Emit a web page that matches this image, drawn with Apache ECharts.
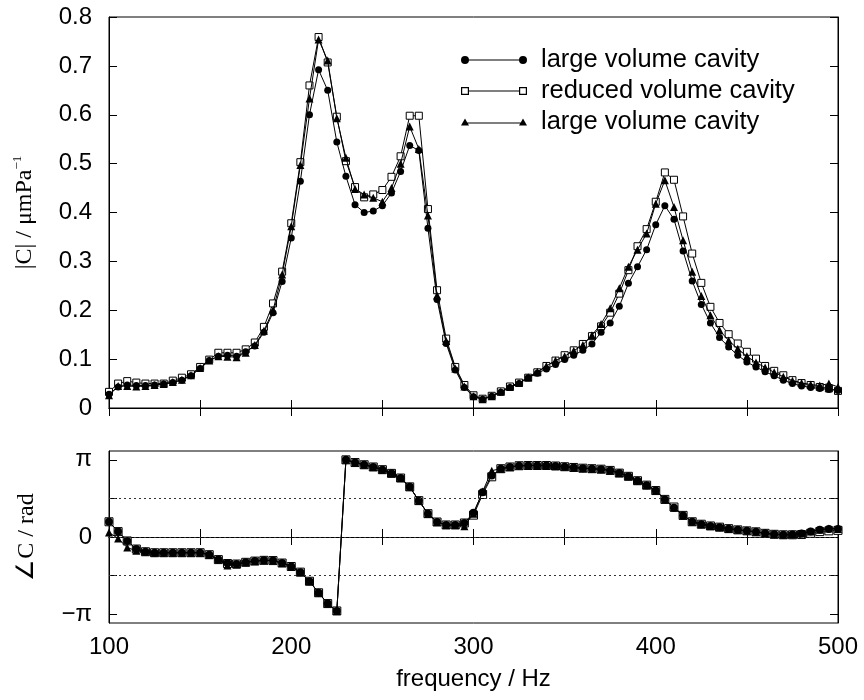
<!DOCTYPE html>
<html>
<head>
<meta charset="utf-8">
<script src="https://cdn.jsdelivr.net/npm/echarts@6/dist/echarts.min.js"></script>
<style>
html,body{margin:0;padding:0;background:#fff;}
#c{width:864px;height:700px;}
</style>
</head>
<body>
<div id="c"></div>
<script>
// frequencies (Hz)
const freq = [100,105,110,115,120,125,130,135,140,145,
  150,155,160,165,170,175,180,185,190,195,
  200,205,210,215,220,225,230,235,240,245,
  250,255,260,265,270,275,280,285,290,295,
  300,305,310,315,320,325,330,335,340,345,
  350,355,360,365,370,375,380,385,390,395,
  400,405,410,415,420,425,430,435,440,445,
  450,455,460,465,470,475,480,485,490,495,
  500];

const seriesNames = ['large volume cavity', 'reduced volume cavity', 'large volume cavity '];

// |C| (µm/Pa)
const magLarge = [.028,.043,.047,.046,.046,.047,.049,.052,.057,.066,
  .081,.097,.106,.108,.106,.115,.127,.155,.195,.259,
  .348,.464,.600,.692,.650,.544,.474,.416,.400,.403,
  .414,.440,.484,.537,.527,.368,.222,.132,.078,.042,
  .023,.018,.024,.032,.042,.050,.062,.071,.080,.089,
  .099,.108,.118,.131,.155,.174,.208,.255,.289,.324,
  .375,.414,.386,.321,.260,.212,.174,.144,.125,.108,
  .094,.084,.074,.066,.057,.050,.045,.042,.040,.038,
  .036];
const magReduced = [.033,.050,.055,.052,.050,.050,.050,.056,.062,.069,
  .084,.099,.113,.113,.113,.120,.134,.166,.214,.279,
  .378,.503,.660,.759,.707,.596,.505,.452,.431,.437,
  .446,.473,.515,.598,.598,.407,.241,.142,.084,.047,
  .026,.019,.025,.034,.044,.052,.062,.073,.086,.097,
  .108,.118,.131,.147,.167,.195,.234,.282,.331,.366,
  .422,.482,.467,.392,.316,.256,.207,.174,.151,.132,
  .115,.101,.086,.076,.067,.057,.051,.047,.043,.040,
  .035];
const magLarge2 = [.026,.045,.045,.044,.045,.047,.049,.053,.058,.067,
  .082,.097,.106,.105,.104,.113,.129,.158,.200,.273,
  .372,.497,.633,.754,.711,.593,.512,.448,.437,.430,
  .422,.450,.500,.576,.530,.394,.230,.137,.081,.044,
  .024,.018,.024,.033,.043,.051,.063,.074,.086,.097,
  .106,.117,.129,.149,.172,.204,.245,.289,.324,.357,
  .418,.466,.411,.343,.279,.229,.190,.159,.138,.121,
  .106,.093,.083,.073,.064,.056,.051,.048,.046,.050,
  .043];

// phase (rad)
const phaseLarge = [.62,.22,-.16,-.49,-.60,-.64,-.64,-.64,-.64,-.64,
  -.64,-.72,-.92,-1.06,-1.10,-1.03,-.98,-.95,-.96,-1.06,
  -1.20,-1.43,-1.80,-2.27,-2.71,-3.01,3.14,3.03,2.94,2.85,
  2.74,2.59,2.40,2.04,1.48,.95,.61,.49,.49,.57,
  .99,1.82,2.50,2.78,2.85,2.90,2.91,2.91,2.91,2.89,
  2.86,2.83,2.80,2.78,2.76,2.71,2.60,2.47,2.29,2.11,
  1.89,1.53,1.19,.88,.62,.52,.45,.40,.34,.29,
  .25,.21,.15,.11,.09,.10,.14,.22,.30,.33,
  .33];
const phaseReduced = [.62,.22,-.16,-.49,-.60,-.64,-.64,-.64,-.64,-.64,
  -.64,-.72,-.92,-1.08,-1.10,-1.03,-.98,-.95,-.96,-1.06,
  -1.20,-1.43,-1.80,-2.27,-2.71,-3.01,3.14,3.03,2.94,2.85,
  2.74,2.59,2.40,2.04,1.48,.95,.61,.49,.49,.57,
  .89,1.73,2.45,2.78,2.85,2.90,2.91,2.91,2.91,2.89,
  2.86,2.83,2.80,2.78,2.76,2.71,2.60,2.47,2.29,2.11,
  1.89,1.53,1.22,.88,.62,.52,.45,.40,.34,.29,
  .25,.21,.15,.11,.09,.09,.10,.15,.22,.25,
  .27];
const phaseLarge2 = [.18,-.06,-.43,-.56,-.60,-.64,-.64,-.64,-.64,-.64,
  -.64,-.72,-.92,-1.16,-1.12,-1.03,-.98,-.95,-.96,-1.06,
  -1.20,-1.43,-1.80,-2.27,-2.71,-3.01,3.14,3.03,2.94,2.85,
  2.74,2.59,2.40,2.04,1.48,.95,.61,.49,.49,.44,
  .95,1.85,2.70,2.78,2.85,2.90,2.91,2.91,2.91,2.89,
  2.86,2.83,2.80,2.78,2.76,2.71,2.60,2.47,2.29,2.11,
  1.89,1.53,1.19,.88,.62,.52,.45,.40,.34,.29,
  .25,.21,.15,.11,.09,.10,.14,.22,.30,.35,
  .33];

const xTickStep = 50;
const magTicks = 0.1;
const phaseTickValues = [-Math.PI, -Math.PI/2, 0, Math.PI/2, Math.PI];
const phaseLabelValues = [-Math.PI, 0, Math.PI];
const phaseLabelText = ['\u2212\u03c0', '0', '\u03c0'];
const phaseGridValues = [-Math.PI/2, 0, Math.PI/2];

const pair = (ys) => freq.map((f, i) => [f, ys[i]]);

const SANS = 'Liberation Sans, Arial, Helvetica, sans-serif';
const SERIF = 'Liberation Serif, Times New Roman, serif';
const FS = 24;

function xAx(grid, pos, showLabel, name) {
  return {
    type: 'value', gridIndex: grid, position: pos, min: 100, max: 500, interval: xTickStep,
    axisLine: {show: true, lineStyle: {color: '#000', width: 1}},
    axisTick: {show: true, inside: true, length: 8, lineStyle: {color: '#000', width: 1}},
    axisLabel: {show: showLabel, margin: 12, color: '#000', fontFamily: SANS, fontSize: FS,
      formatter: v => (v % 100 === 0 ? String(v) : '')},
    splitLine: {show: false},
    name: name || '', nameLocation: 'middle', nameGap: 44,
    nameTextStyle: {color: '#000', fontFamily: SANS, fontSize: FS}
  };
}

const opt = {
  animation: false,
  backgroundColor: '#fff',
  grid: [
    {left: 109, top: 17, width: 729, height: 391, show: true, borderColor: '#000', borderWidth: 1},
    {left: 109, top: 451, width: 729, height: 172, show: true, borderColor: '#000', borderWidth: 1}
  ],
  xAxis: [
    xAx(0, 'bottom', false),
    xAx(0, 'top', false),
    xAx(1, 'bottom', true, 'frequency / Hz'),
    xAx(1, 'top', false)
  ],
  yAxis: [
    {
      type: 'value', gridIndex: 0, position: 'left', min: 0, max: 0.8, interval: magTicks,
      axisLine: {show: true, lineStyle: {color: '#000'}},
      axisTick: {show: true, inside: true, length: 8, lineStyle: {color: '#000'}},
      axisLabel: {show: true, margin: 17, color: '#000', fontFamily: SANS, fontSize: FS,
        formatter: v => (Math.abs(v) < 1e-9 ? '0' : v.toFixed(1))},
      splitLine: {show: false},
      name: '{b||C| / \u03bcmPa}{sup|\u22121}', nameLocation: 'middle', nameGap: 70,
      nameTextStyle: {color: '#000', fontFamily: SERIF, fontSize: FS,
        rich: {b: {fontFamily: SERIF, fontSize: FS, color: '#000'},
               sup: {fontFamily: SERIF, fontSize: 13, color: '#000', verticalAlign: 'top', lineHeight: 28}}}
    },
    {
      type: 'value', gridIndex: 0, position: 'right', min: 0, max: 0.8, interval: magTicks,
      axisLine: {show: true, lineStyle: {color: '#000'}},
      axisTick: {show: true, inside: true, length: 8, lineStyle: {color: '#000'}},
      axisLabel: {show: false}, splitLine: {show: false}
    },
    {
      type: 'value', gridIndex: 1, position: 'left', min: -3.5, max: 3.5,
      axisLine: {show: true, lineStyle: {color: '#000'}},
      axisTick: {show: true, inside: true, length: 8, customValues: phaseTickValues, lineStyle: {color: '#000'}},
      axisLabel: {show: true, margin: 17, color: '#000', fontFamily: SANS, fontSize: FS,
        customValues: phaseLabelValues,
        formatter: v => phaseLabelText[phaseLabelValues.findIndex(p => Math.abs(p - v) < 1e-6)] || ''},
      splitLine: {show: false},
      name: '\u2220C / rad', nameLocation: 'middle', nameGap: 70,
      nameTextStyle: {color: '#000', fontFamily: SERIF, fontSize: FS}
    },
    {
      type: 'value', gridIndex: 1, position: 'right', min: -3.5, max: 3.5,
      axisLine: {show: true, lineStyle: {color: '#000'}},
      axisTick: {show: true, inside: true, length: 8, customValues: phaseTickValues, lineStyle: {color: '#000'}},
      axisLabel: {show: false}, splitLine: {show: false}
    }
  ],
  legend: {
    orient: 'vertical', left: 461, top: 47, padding: 0, itemWidth: 66, itemHeight: 8, itemGap: 5,
    selectedMode: false,
    textStyle: {color: '#000', fontFamily: SANS, fontSize: 25.5, lineHeight: 24, padding: [0, 0, 0, 9]},
    data: [
      {name: seriesNames[0], itemStyle: {color: '#000', borderWidth: 0},
       icon: 'path://M0 4A4 4 0 1 1 8 4A4 4 0 1 1 0 4ZM58 4A4 4 0 1 1 66 4A4 4 0 1 1 58 4ZM4 3.5L62 3.5L62 4.5L4 4.5Z'},
      {name: seriesNames[1], itemStyle: {color: '#000', borderWidth: 0},
       icon: 'path://M0 0L8 0L8 8L0 8ZM1.2 1.2L1.2 6.8L6.8 6.8L6.8 1.2ZM58 0L66 0L66 8L58 8ZM59.2 1.2L59.2 6.8L64.8 6.8L64.8 1.2ZM8 3.5L58 3.5L58 4.5L8 4.5Z'},
      {name: seriesNames[2], itemStyle: {color: '#000', borderWidth: 0},
       icon: 'path://M0 8L4 1L8 8ZM58 8L62 1L66 8ZM4 5L62 5L62 6L4 6Z'}
    ]
  },
  series: []
};

const styles = [
  {symbol: 'circle', itemStyle: {color: '#000'}, z: 4},
  {symbol: 'rect', itemStyle: {color: '#fff', borderColor: '#000', borderWidth: 1}, z: 3},
  {symbol: 'triangle', itemStyle: {color: '#000'}, z: 5}
];
const topSizes = [7, 7, 8];
const bottomSizes = [8, 8, 8];
const mags = [magLarge, magReduced, magLarge2];
const phases = [phaseLarge, phaseReduced, phaseLarge2];

for (let i = 0; i < 3; i++) {
  opt.series.push(Object.assign({
    type: 'line', name: seriesNames[i], xAxisIndex: 0, yAxisIndex: 0,
    data: pair(mags[i]), showSymbol: true, showAllSymbol: true, clip: true,
    symbolSize: topSizes[i],
    lineStyle: {color: '#000', width: 1}, emphasis: {disabled: true}
  }, styles[i]));
}
for (let i = 0; i < 3; i++) {
  const s = Object.assign({
    type: 'line', name: seriesNames[i], xAxisIndex: 2, yAxisIndex: 2,
    data: pair(phases[i]), showSymbol: true, showAllSymbol: true, clip: true,
    symbolSize: bottomSizes[i],
    lineStyle: {color: '#000', width: 1}, emphasis: {disabled: true}
  }, styles[i]);
  if (i === 0) {
    s.markLine = {
      silent: true, symbol: ['none', 'none'], label: {show: false},
      lineStyle: {color: '#333', width: 1, type: [2, 3]},
      data: phaseGridValues.map(v => ({yAxis: v}))
    };
  }
  opt.series.push(s);
}

const chart = echarts.init(document.getElementById('c'), null, {renderer: 'canvas'});
chart.setOption(opt);
</script>
</body>
</html>
